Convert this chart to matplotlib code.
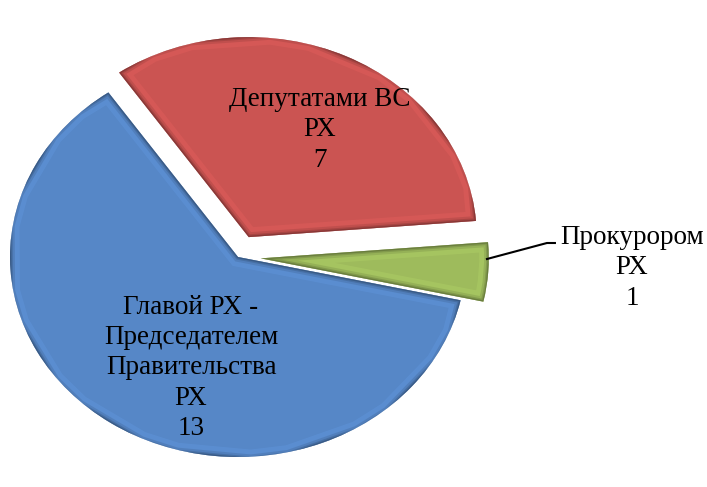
import matplotlib.pyplot as plt
import matplotlib.colors as mcolors

# Данные
labels = ["Главой РХ -\nПредседателем\nПравительства\nРХ", "Депутатами ВС\nРХ", "Прокурором\nРХ"]
values = [13, 7, 1]
colors = ["#5687C7", "#CB5452", "#9EBB5C"]
explode = [0.0, 0.11, 0.1]

plt.rcParams['font.family'] = ['Liberation Serif', 'DejaVu Serif']

fig = plt.figure(figsize=(7.07, 4.87), dpi=100)
ax = fig.add_axes([0, 0, 1, 1])

wedges, _ = ax.pie(values, colors=colors, explode=explode, startangle=-12.5,
                   counterclock=False, radius=1,
                   wedgeprops=dict(linewidth=0))

# efecto bisel: borde oscuro recortado al propio sector
for w, c in zip(wedges, colors):
    dark = tuple(v * 0.55 for v in mcolors.to_rgb(c))
    light = tuple(min(1, v * 1.25) for v in mcolors.to_rgb(c))
    p = plt.Polygon(w.get_path().vertices, closed=True, fill=False,
                    edgecolor=light, linewidth=14, alpha=0.2,
                    transform=w.get_transform())
    p.set_clip_path(w)
    ax.add_patch(p)
    for lw, col, a in [(7, dark, 0.2), (4, dark, 0.3), (2, dark, 0.55)]:
        p = plt.Polygon(w.get_path().vertices, closed=True, fill=False,
                        edgecolor=col, linewidth=lw, alpha=a,
                        transform=w.get_transform())
        p.set_clip_path(w)
        ax.add_patch(p)

# aspecto elíptico (pseudo 3D)
cx, cy = 238, 257
ax.set_aspect('auto')
ax.set_xlim(-cx / 228, (707 - cx) / 228)
ax.set_ylim(-(487 - cy) / 200, cy / 200)
ax.axis('off')

# etiquetas
fs = 19.5
ax.text(-0.206, -0.555, f"{labels[0]}\n{values[0]}", ha='center', va='center',
        fontsize=fs, linespacing=1.28)
ax.text(0.36, 0.635, f"{labels[1]}\n{values[1]}", ha='center', va='center',
        fontsize=fs, linespacing=1.28)
ax.text(1.728, -0.055, f"{labels[2]}\n{values[2]}", ha='center', va='center',
        fontsize=fs, linespacing=1.28)
ax.plot([1.092, 1.355, 1.39], [-0.01, 0.07, 0.07], color='black', lw=1.5)

fig.savefig("out.png", dpi=100)
